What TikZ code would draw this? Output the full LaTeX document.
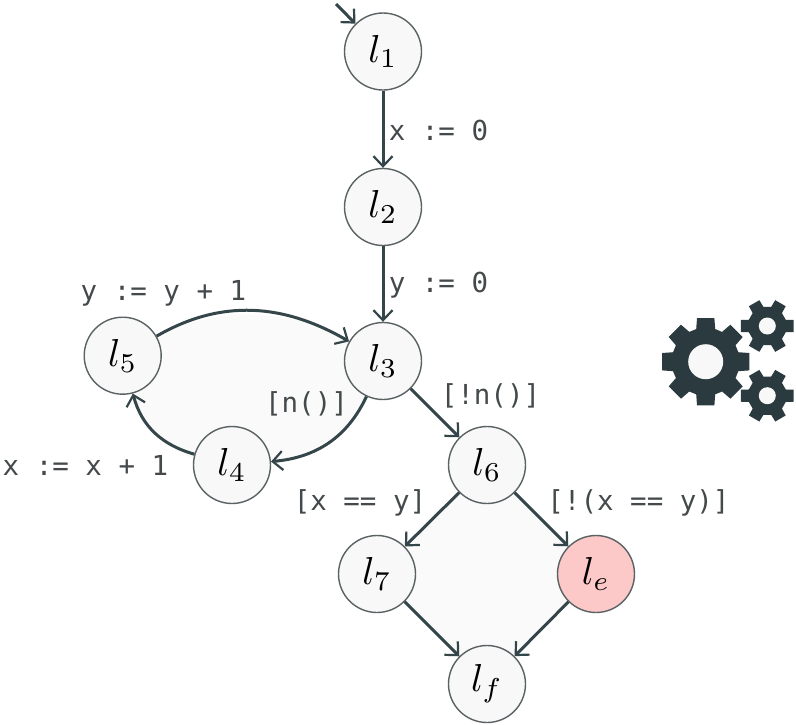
\documentclass[tikz,border=0pt]{standalone}
\usepackage{graphicx}
\usepackage{fontspec}
\newfontfamily\lblfont{DejaVu Sans Mono}
\usetikzlibrary{arrows.meta,backgrounds,calc}
\definecolor{edgec}{HTML}{34464A}
\definecolor{gearc}{HTML}{2B3A3F}
\definecolor{circ}{HTML}{5A6264}
\definecolor{fillc}{HTML}{F8F8F8}
\definecolor{regionc}{HTML}{FAFAFA}
\definecolor{errc}{HTML}{FDC8C8}
\definecolor{lblc}{HTML}{44494B}
\newcommand{\locname}[1]{\scalebox{3.9}{$l_{#1}$}}
\newcommand{\gearshape}[8]{% x y outer root teeth hole tiphalf roothalf
  \fill[gearc] \foreach \k in {1,...,#5} {
    \ifnum\k=1 ($(#1,#2)+({360/#5*\k-#8*180/#5}:#4)$) \else -- ($(#1,#2)+({360/#5*\k-#8*180/#5}:#4)$) \fi
    -- ($(#1,#2)+({360/#5*\k-#7*180/#5}:#3)$)
    -- ($(#1,#2)+({360/#5*\k+#7*180/#5}:#3)$)
    -- ($(#1,#2)+({360/#5*\k+#8*180/#5}:#4)$)
  } -- cycle;
  \fill[fillc] (#1,#2) circle[radius=#6];
}
\tikzset{
  loc/.style={circle,draw=circ,fill=fillc,line width=1.4pt,minimum size=77pt,inner sep=0pt},
  err/.style={loc,fill=errc},
  flow/.style={draw=edgec,line width=3pt,-{Straight Barb[length=10pt,width=19pt,line width=2.2pt]}},
  lbl/.style={anchor=base,inner sep=0pt,text=lblc,font=\lblfont\fontsize{27.5}{30}\selectfont},
  region/.style={fill=regionc,draw=none}
}
\begin{document}
\begin{tikzpicture}[x=1pt,y=-1pt]
\useasboundingbox (0,0) rectangle (796,724);
\node[loc] (l1) at (383,51.5) {\locname{1}};
\node[loc] (l2) at (383,207) {\locname{2}};
\node[loc] (l3) at (383,361) {\locname{3}};
\node[loc] (l5) at (122.7,355.7) {\locname{5}};
\node[loc] (l4) at (232,465) {\locname{4}};
\node[loc] (l6) at (487,465) {\locname{6}};
\node[loc] (l7) at (377,574) {\locname{7}};
\node[err] (le) at (596,574) {\locname{e}};
\node[loc] (lf) at (487,684) {\locname{f}};
\coordinate (init) at (336,4);
\begin{pgfonlayer}{background}
\fill[region] (l6.center) -- (l7.center) -- (lf.center) -- (le.center) -- cycle;
\fill[region] (l3.center) .. controls (360,430) and (320,462) .. (l4.center)
  .. controls (170,462) and (135,430) .. (l5.center)
  .. controls (200,300) and (300,300) .. (l3.center) -- cycle;
\end{pgfonlayer}
\draw[flow] (init) -- (l1);
\draw[flow] (l1) -- (l2);
\draw[flow] (l2) -- (l3);
\draw[flow] (l3) -- (l6);
\draw[flow] (l6) -- (l7);
\draw[flow] (l6) -- (le);
\draw[flow] (l7) -- (lf);
\draw[flow] (le) -- (lf);
\draw[flow] (l3) to[out=245,in=5,looseness=1] (l4);
\draw[flow] (l4) to[out=164,in=285,looseness=1] (l5);
\draw[flow] (l5) to[out=30,in=150,looseness=1] (l3);
\node[lbl] (t1) at (438.5,140) {x := 0};
\node[lbl] (t2) at (438.5,292) {y := 0};
\node[lbl] (t3) at (163.5,300) {y := y + 1};
\node[lbl] (t4) at (306.5,412) {[n()]};
\node[lbl] (t5) at (85.5,475) {x := x + 1};
\node[lbl] (t6) at (490.5,404) {[!n()]};
\node[lbl] (t7) at (360,510) {[x == y]};
\node[lbl] (t8) at (638.5,510) {[!(x == y)]};
\gearshape{705.7}{361.7}{44.5}{34}{8}{17.5}{0.5}{0.72}
\gearshape{767.3}{326}{27}{19.5}{6}{8.5}{0.43}{0.62}
\gearshape{767.3}{395.7}{27}{19.5}{6}{8.5}{0.43}{0.62}
\end{tikzpicture}
\end{document}
